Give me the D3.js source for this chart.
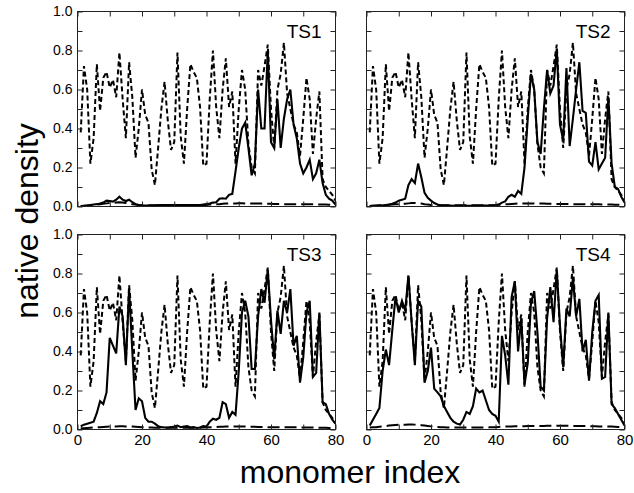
<!DOCTYPE html>
<html><head><meta charset="utf-8">
<script src="https://cdn.jsdelivr.net/npm/d3@7"></script>
<style>
body{margin:0;background:#fff}
svg{display:block}
text{font-family:"Liberation Sans",Arial,Helvetica,sans-serif;fill:#000}
</style>
</head><body>
<svg id="chart" width="634" height="493"></svg>
<script>
// ---------- data ----------
const monomerIndex = d3.range(1, 81);
const panelNames = ["TS1", "TS2", "TS3", "TS4"];
const xTickValues = [0, 20, 40, 60, 80];
const yTickValues = [0, 0.2, 0.4, 0.6, 0.8, 1.0];

// native-structure reference (short dashes), same in all panels
const nativeDensity = [0.38,0.72,0.60,0.22,0.35,0.73,0.49,0.66,0.69,0.61,
  0.65,0.56,0.79,0.55,0.35,0.74,0.56,0.25,0.40,0.60,
  0.47,0.43,0.19,0.11,0.30,0.50,0.64,0.44,0.29,0.33,
  0.79,0.36,0.22,0.50,0.73,0.69,0.66,0.51,0.21,0.22,
  0.55,0.80,0.51,0.35,0.60,0.76,0.51,0.59,0.22,0.50,
  0.70,0.60,0.32,0.20,0.17,0.70,0.62,0.72,0.83,0.50,
  0.30,0.60,0.68,0.84,0.58,0.50,0.42,0.38,0.26,0.45,
  0.66,0.55,0.27,0.45,0.59,0.14,0.10,0.08,0.06,0.03];

// transition-state native density (solid)
const ts1Density = [0.002,0.003,0.005,0.008,0.010,0.012,0.015,0.020,0.030,0.028,
  0.025,0.035,0.050,0.035,0.028,0.035,0.022,0.012,0.008,0.006,
  0.005,0.005,0.005,0.005,0.006,0.007,0.007,0.008,0.008,0.008,
  0.008,0.008,0.008,0.008,0.008,0.008,0.008,0.008,0.010,0.012,
  0.015,0.020,0.022,0.040,0.042,0.040,0.060,0.065,0.180,0.300,
  0.400,0.430,0.300,0.160,0.220,0.600,0.400,0.400,0.800,0.330,
  0.300,0.550,0.300,0.450,0.550,0.600,0.420,0.350,0.220,0.170,
  0.200,0.240,0.140,0.170,0.240,0.120,0.060,0.040,0.030,0.010];
const ts2Density = [0.002,0.003,0.004,0.005,0.006,0.008,0.010,0.014,0.020,0.030,
  0.035,0.040,0.110,0.140,0.120,0.220,0.150,0.070,0.045,0.030,
  0.018,0.010,0.006,0.005,0.005,0.005,0.004,0.004,0.004,0.004,
  0.004,0.004,0.004,0.004,0.004,0.005,0.005,0.005,0.005,0.006,
  0.010,0.020,0.026,0.050,0.060,0.050,0.080,0.065,0.200,0.450,
  0.680,0.600,0.330,0.270,0.500,0.700,0.580,0.620,0.810,0.420,
  0.340,0.710,0.310,0.450,0.600,0.740,0.490,0.480,0.230,0.210,
  0.330,0.190,0.220,0.250,0.560,0.220,0.100,0.090,0.050,0.020];
const ts3Density = [0.017,0.025,0.030,0.035,0.040,0.085,0.145,0.130,0.190,0.470,
  0.430,0.390,0.630,0.580,0.330,0.720,0.400,0.100,0.160,0.145,
  0.060,0.040,0.040,0.030,0.017,0.012,0.010,0.010,0.012,0.015,
  0.020,0.012,0.015,0.018,0.010,0.012,0.008,0.010,0.018,0.015,
  0.040,0.055,0.050,0.060,0.140,0.130,0.060,0.090,0.075,0.300,
  0.600,0.660,0.580,0.310,0.310,0.580,0.720,0.650,0.820,0.560,
  0.360,0.610,0.490,0.660,0.600,0.720,0.430,0.480,0.240,0.370,
  0.600,0.660,0.270,0.290,0.600,0.140,0.130,0.080,0.050,0.030];
const ts4Density = [0.020,0.050,0.080,0.110,0.300,0.410,0.330,0.510,0.680,0.600,
  0.660,0.610,0.790,0.550,0.330,0.660,0.630,0.240,0.300,0.420,
  0.210,0.190,0.170,0.120,0.090,0.060,0.040,0.030,0.025,0.050,
  0.090,0.080,0.120,0.210,0.190,0.200,0.150,0.100,0.080,0.070,
  0.040,0.480,0.380,0.230,0.680,0.760,0.400,0.570,0.230,0.340,
  0.650,0.710,0.500,0.220,0.200,0.570,0.730,0.550,0.820,0.530,
  0.320,0.620,0.580,0.780,0.580,0.670,0.400,0.460,0.250,0.500,
  0.660,0.690,0.260,0.270,0.600,0.130,0.110,0.080,0.050,0.020];

// non-native density (long dashes)
const ts1NonNative = [0.003,0.004,0.005,0.006,0.008,0.010,0.012,0.014,0.016,0.018,
  0.018,0.020,0.022,0.020,0.018,0.016,0.012,0.010,0.008,0.007,
  0.006,0.006,0.006,0.006,0.006,0.006,0.006,0.006,0.006,0.006,
  0.006,0.006,0.006,0.006,0.006,0.006,0.007,0.008,0.008,0.008,
  0.010,0.010,0.012,0.012,0.014,0.015,0.016,0.016,0.016,0.017,
  0.017,0.016,0.016,0.016,0.015,0.015,0.015,0.014,0.014,0.014,
  0.013,0.013,0.013,0.012,0.012,0.012,0.012,0.012,0.012,0.012,
  0.012,0.011,0.011,0.011,0.010,0.010,0.010,0.009,0.008,0.006];
const ts2NonNative = [0.003,0.004,0.005,0.006,0.007,0.008,0.009,0.010,0.011,0.012,
  0.013,0.014,0.016,0.018,0.018,0.017,0.015,0.012,0.010,0.008,
  0.007,0.006,0.006,0.006,0.006,0.006,0.006,0.006,0.006,0.006,
  0.006,0.006,0.006,0.006,0.006,0.006,0.006,0.006,0.007,0.008,
  0.009,0.010,0.011,0.012,0.013,0.014,0.015,0.015,0.016,0.016,
  0.016,0.016,0.015,0.015,0.015,0.014,0.014,0.014,0.013,0.013,
  0.013,0.013,0.012,0.012,0.012,0.012,0.012,0.011,0.011,0.011,
  0.011,0.011,0.010,0.010,0.010,0.010,0.009,0.009,0.008,0.006];
const ts3NonNative = [0.006,0.007,0.008,0.009,0.010,0.011,0.012,0.013,0.014,0.015,
  0.016,0.016,0.017,0.017,0.016,0.016,0.015,0.014,0.013,0.012,
  0.011,0.010,0.010,0.009,0.009,0.009,0.009,0.009,0.009,0.009,
  0.009,0.009,0.009,0.009,0.009,0.009,0.009,0.009,0.010,0.010,
  0.011,0.012,0.013,0.014,0.014,0.015,0.015,0.015,0.015,0.015,
  0.015,0.015,0.014,0.014,0.014,0.013,0.013,0.013,0.012,0.012,
  0.012,0.012,0.012,0.011,0.011,0.011,0.011,0.011,0.010,0.010,
  0.010,0.010,0.010,0.010,0.009,0.009,0.009,0.008,0.008,0.007];
const ts4NonNative = [0.010,0.011,0.012,0.014,0.016,0.018,0.020,0.022,0.023,0.024,
  0.025,0.025,0.026,0.026,0.025,0.024,0.022,0.020,0.018,0.016,
  0.014,0.013,0.012,0.011,0.010,0.010,0.010,0.010,0.010,0.010,
  0.010,0.010,0.010,0.010,0.010,0.010,0.010,0.011,0.011,0.012,
  0.013,0.014,0.015,0.016,0.016,0.017,0.017,0.017,0.017,0.018,
  0.018,0.018,0.018,0.018,0.018,0.019,0.019,0.019,0.019,0.019,
  0.019,0.019,0.019,0.018,0.018,0.018,0.018,0.018,0.017,0.017,
  0.017,0.016,0.016,0.016,0.015,0.015,0.014,0.013,0.012,0.010];

const tsDensity = [ts1Density, ts2Density, ts3Density, ts4Density];
const tsNonNative = [ts1NonNative, ts2NonNative, ts3NonNative, ts4NonNative];

// ---------- layout ----------
const svg = d3.select("#chart");
const panelW = 258, panelH = 195;
const colX = [77.5, 366.5], rowY = [11.5, 234.5];
const x = d3.scaleLinear().domain([0, 80]).range([0, panelW]);
const y = d3.scaleLinear().domain([0, 1]).range([panelH, 0]);
const tickLen = 5;
const minorX = d3.range(0, 81, 10);
const minorY = d3.range(0, 1.0001, 0.1);

const line = d3.line().x((d, i) => x(monomerIndex[i])).y(d => y(d));

panelNames.forEach((name, p) => {
  const col = p % 2, row = Math.floor(p / 2);
  const g = svg.append("g").attr("transform", `translate(${colX[col]},${rowY[row]})`);

  const clipId = "clip" + p;
  g.append("clipPath").attr("id", clipId).append("rect")
    .attr("x", 0).attr("y", -2).attr("width", panelW).attr("height", panelH + 2);

  const plot = g.append("g").attr("clip-path", `url(#${clipId})`);
  plot.append("path").datum(tsNonNative[p]).attr("d", line)
    .attr("fill", "none").attr("stroke", "#000").attr("stroke-width", 2)
    .attr("stroke-dasharray", "12,5");
  plot.append("path").datum(nativeDensity).attr("d", line)
    .attr("fill", "none").attr("stroke", "#000").attr("stroke-width", 2)
    .attr("stroke-dasharray", "5,3");
  plot.append("path").datum(tsDensity[p]).attr("d", line)
    .attr("fill", "none").attr("stroke", "#000").attr("stroke-width", 2.1);

  const styleAxis = sel => {
    sel.select(".domain").remove();
    sel.selectAll(".tick line").attr("stroke", "#222").attr("stroke-width", 1);
  };
  g.append("g").call(d3.axisLeft(y).tickValues(minorY).tickSize(-tickLen).tickFormat(""))
    .call(styleAxis);
  g.append("g").attr("transform", `translate(${panelW},0)`)
    .call(d3.axisRight(y).tickValues(minorY).tickSize(-tickLen).tickFormat("")).call(styleAxis);
  g.append("g").call(d3.axisTop(x).tickValues(minorX).tickSize(-tickLen).tickFormat(""))
    .call(styleAxis);
  g.append("g").attr("transform", `translate(0,${panelH})`)
    .call(d3.axisBottom(x).tickValues(minorX).tickSize(-tickLen).tickFormat("")).call(styleAxis);

  g.append("rect").attr("width", panelW).attr("height", panelH)
    .attr("fill", "none").attr("stroke", "#222").attr("stroke-width", 1);

  if (col === 0) {
    const ya = g.append("g").call(d3.axisLeft(y).tickValues(yTickValues).tickSize(0).tickPadding(5)
      .tickFormat(d3.format(".1f")));
    ya.select(".domain").remove();
    ya.selectAll("text").attr("font-size", 14).attr("fill", "#000")
      .style("font-family", '"Liberation Sans",Arial,sans-serif');
  }
  if (row === 1) {
    const xa = g.append("g").attr("transform", `translate(0,${panelH})`)
      .call(d3.axisBottom(x).tickValues(xTickValues).tickSize(0).tickPadding(5).tickFormat(d3.format("d")));
    xa.select(".domain").remove();
    xa.selectAll("text").attr("font-size", 15).attr("fill", "#000")
      .style("font-family", '"Liberation Sans",Arial,sans-serif');
  }
  g.append("text").attr("x", panelW - 14).attr("y", 26).attr("text-anchor", "end")
    .attr("font-size", 19).text(name);
});

svg.append("text").attr("x", 350).attr("y", 483).attr("text-anchor", "middle")
  .attr("font-size", 32).text("monomer index");
svg.append("text").attr("transform", "translate(38,221) rotate(-90)")
  .attr("text-anchor", "middle").attr("font-size", 32).text("native density");
</script>
</body></html>
